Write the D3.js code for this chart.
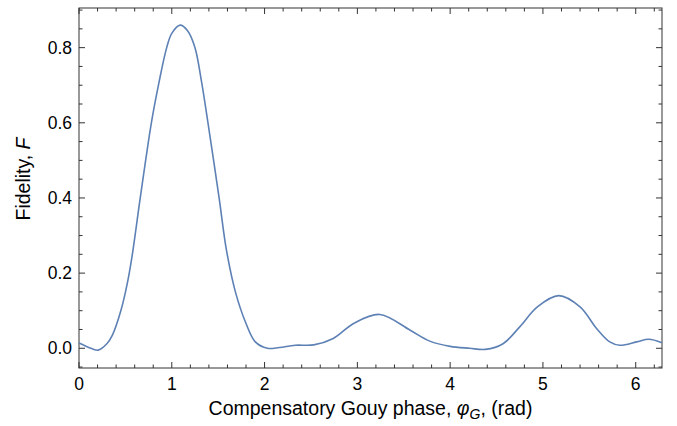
<!DOCTYPE html>
<html>
<head>
<meta charset="utf-8">
<script src="https://cdn.jsdelivr.net/npm/d3@7"></script>
<style>
  body { margin: 0; background: #fff; }
  text { font-family: "Liberation Sans", Arial, sans-serif; fill: #000; }
</style>
</head>
<body>
<div id="chart"></div>
<script>
// values
var phase = [0.00, 0.10, 0.205, 0.30, 0.36, 0.45, 0.52, 0.575, 0.66, 0.78, 0.86, 0.945, 1.00, 1.09, 1.17, 1.25, 1.32, 1.39, 1.51, 1.59, 1.69, 1.80, 1.90, 2.03, 2.16, 2.33, 2.53, 2.74, 2.96, 3.24, 3.57, 3.78, 4.00, 4.21, 4.38, 4.57, 4.75, 4.94, 5.17, 5.40, 5.58, 5.72, 5.83, 6.01, 6.14, 6.283]
var fidelity = [0.014, 0.003, -0.005, 0.012, 0.035, 0.099, 0.172, 0.25, 0.40, 0.60, 0.705, 0.80, 0.838, 0.86, 0.845, 0.80, 0.71, 0.60, 0.40, 0.26, 0.146, 0.066, 0.017, 0.000, 0.002, 0.008, 0.009, 0.026, 0.066, 0.090, 0.048, 0.019, 0.005, 0.000, -0.003, 0.012, 0.057, 0.110, 0.140, 0.110, 0.052, 0.017, 0.008, 0.017, 0.024, 0.015]
var xTicks = [0, 1, 2, 3, 4, 5, 6]
var yTicks = [0.0, 0.2, 0.4, 0.6, 0.8]

var width = 677, height = 426
// plot frame (note: "top" is a reserved window property, so use other names)
var plotL = 79, plotR = 662, plotT = 8, plotB = 368

var svg = d3.select("#chart").append("svg")
  .attr("width", width)
  .attr("height", height)

var x = d3.scaleLinear().domain([0, 2 * Math.PI]).range([plotL, plotR])
var y = d3.scaleLinear().domain([-0.0525, 0.9055]).range([plotB, plotT])

var data = phase.map(function(p, i) { return {x: p, y: fidelity[i]} })

// minor ticks
var xMinor = d3.range(0, 6.3, 0.2).filter(function(v) { return Math.abs(v - Math.round(v)) > 1e-6 })
var yMinor = d3.range(-0.05, 0.91, 0.05).filter(function(v) { return Math.abs(v / 0.2 - Math.round(v / 0.2)) > 1e-6 })

var frameColor = "#333"
var major = 6, minor = 3.5

// tick marks, pointing inward on all four sides
var g = svg.append("g").attr("stroke", frameColor).attr("stroke-width", 1)
xTicks.forEach(function(v) {
  g.append("line").attr("x1", x(v)).attr("x2", x(v)).attr("y1", plotB).attr("y2", plotB - major)
  g.append("line").attr("x1", x(v)).attr("x2", x(v)).attr("y1", plotT).attr("y2", plotT + major)
})
xMinor.forEach(function(v) {
  g.append("line").attr("x1", x(v)).attr("x2", x(v)).attr("y1", plotB).attr("y2", plotB - minor)
  g.append("line").attr("x1", x(v)).attr("x2", x(v)).attr("y1", plotT).attr("y2", plotT + minor)
})
yTicks.forEach(function(v) {
  g.append("line").attr("y1", y(v)).attr("y2", y(v)).attr("x1", plotL).attr("x2", plotL + major)
  g.append("line").attr("y1", y(v)).attr("y2", y(v)).attr("x1", plotR).attr("x2", plotR - major)
})
yMinor.forEach(function(v) {
  g.append("line").attr("y1", y(v)).attr("y2", y(v)).attr("x1", plotL).attr("x2", plotL + minor)
  g.append("line").attr("y1", y(v)).attr("y2", y(v)).attr("x1", plotR).attr("x2", plotR - minor)
})

// frame
svg.append("rect")
  .attr("x", plotL).attr("y", plotT)
  .attr("width", plotR - plotL).attr("height", plotB - plotT)
  .attr("fill", "none").attr("stroke", frameColor).attr("stroke-width", 1)

// tick labels
svg.selectAll(".xl").data(xTicks).enter().append("text")
  .attr("x", function(d) { return x(d) })
  .attr("y", 389.5)
  .attr("text-anchor", "middle")
  .style("font-size", "17.5px")
  .text(function(d) { return d })

svg.selectAll(".yl").data(yTicks).enter().append("text")
  .attr("x", 72)
  .attr("y", function(d) { return y(d) + 6 })
  .attr("text-anchor", "end")
  .style("font-size", "17.5px")
  .text(function(d) { return d.toFixed(1) })

// curve
var line = d3.line()
  .x(function(d) { return x(d.x) })
  .y(function(d) { return y(d.y) })
  .curve(d3.curveCatmullRom.alpha(0.5))

svg.append("path")
  .datum(data)
  .attr("d", line)
  .attr("fill", "none")
  .attr("stroke", "#5e81b5")
  .attr("stroke-width", 1.6)

// axis labels
var xl = svg.append("text")
  .attr("x", (plotL + plotR) / 2)
  .attr("y", 415)
  .attr("text-anchor", "middle")
  .style("font-size", "19.5px")
xl.append("tspan").text("Compensatory Gouy phase, ")
xl.append("tspan").style("font-style", "italic").text("\u03c6")
xl.append("tspan").style("font-style", "italic").style("font-size", "14px").attr("dy", 4).text("G")
xl.append("tspan").attr("dy", -4).text(", (rad)")

var yl = svg.append("text")
  .attr("transform", "translate(30,179) rotate(-90)")
  .attr("text-anchor", "middle")
  .style("font-size", "19.5px")
yl.append("tspan").text("Fidelity, ")
yl.append("tspan").style("font-style", "italic").text("F")
</script>
</body>
</html>
